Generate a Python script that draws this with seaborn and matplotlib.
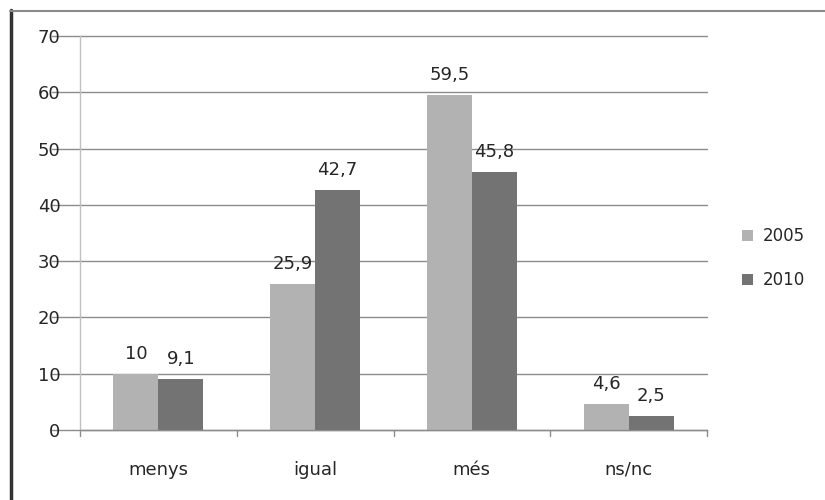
import matplotlib
matplotlib.use("Agg")
import matplotlib.pyplot as plt
import seaborn as sns
import pandas as pd
from matplotlib.lines import Line2D
from matplotlib.patches import Patch

categories = ["menys", "igual", "més", "ns/nc"]
years = ["2005", "2010"]
values_2005 = [10, 25.9, 59.5, 4.6]
values_2010 = [9.1, 42.7, 45.8, 2.5]
y_ticks = [0, 10, 20, 30, 40, 50, 60, 70]

colors = {"2005": "#b2b2b2", "2010": "#737373"}
text_color = "#262626"

df = pd.DataFrame({
    "categoria": categories * 2,
    "any": [years[0]] * len(categories) + [years[1]] * len(categories),
    "valor": values_2005 + values_2010,
})

sns.set_theme(style="white")
plt.rcParams["font.family"] = ["DejaVu Sans"]

fig = plt.figure(figsize=(8.25, 5), dpi=100)
ax = fig.add_axes([80 / 825, 70 / 500, 627 / 825, 394 / 500])

sns.barplot(data=df, x="categoria", y="valor", hue="any", order=categories,
            hue_order=years, palette=colors, width=0.575, gap=0,
            saturation=1, edgecolor="none", linewidth=0, ax=ax, legend=False)

ax.set_ylim(0, 70)
ax.set_xlim(-0.5, len(categories) - 0.5)
ax.set_yticks(y_ticks)
ax.set_yticklabels([str(t) for t in y_ticks], fontsize=13, color=text_color)
ax.set_xlabel("")
ax.set_ylabel("")
ax.tick_params(axis="x", length=0, pad=22, labelsize=13, labelcolor=text_color)
ax.tick_params(axis="y", length=0, pad=14)

# horizontal gridlines extending slightly left of the axis
for t in y_ticks:
    ax.add_line(Line2D([-0.045, 1], [t, t], transform=ax.get_yaxis_transform(),
                       color="#8c8c8c", lw=1.0, clip_on=False, zorder=0.5))

# category separators below the baseline
for b in range(len(categories) + 1):
    ax.add_line(Line2D([b - 0.5, b - 0.5], [0, -0.016],
                       transform=ax.get_xaxis_transform(),
                       color="#8c8c8c", lw=1.0, clip_on=False))

for side in ["top", "right"]:
    ax.spines[side].set_visible(False)
ax.spines["left"].set_color("#c0c0c0")
ax.spines["left"].set_linewidth(1.0)
ax.spines["bottom"].set_color("#8c8c8c")
ax.spines["bottom"].set_linewidth(1.0)

# value labels in the Catalan decimal format
for container, year in zip(ax.containers, years):
    vals = values_2005 if year == "2005" else values_2010
    labels = [("%g" % v).replace(".", ",") for v in vals]
    ax.bar_label(container, labels=labels, padding=8, fontsize=13,
                 color=text_color)

handles = [Patch(facecolor=colors[y], edgecolor="none") for y in years]
leg = fig.legend(handles, years, loc="center left",
                 bbox_to_anchor=(727 / 825, 1 - 258 / 500), frameon=False,
                 fontsize=12, handlelength=0.65, handleheight=0.65,
                 handletextpad=0.6, labelspacing=1.55)
for txt in leg.get_texts():
    txt.set_color(text_color)

# outer frame: dark left edge and grey top edge
fig.add_artist(Line2D([10.5 / 825, 10.5 / 825], [0, 1 - 10 / 500],
                      transform=fig.transFigure, color="#333333", lw=2.5))
fig.add_artist(Line2D([10 / 825, 1], [1 - 10.5 / 500, 1 - 10.5 / 500],
                      transform=fig.transFigure, color="#8a8a8a", lw=1.5))

fig.savefig("out.png", dpi=100, facecolor="white")
